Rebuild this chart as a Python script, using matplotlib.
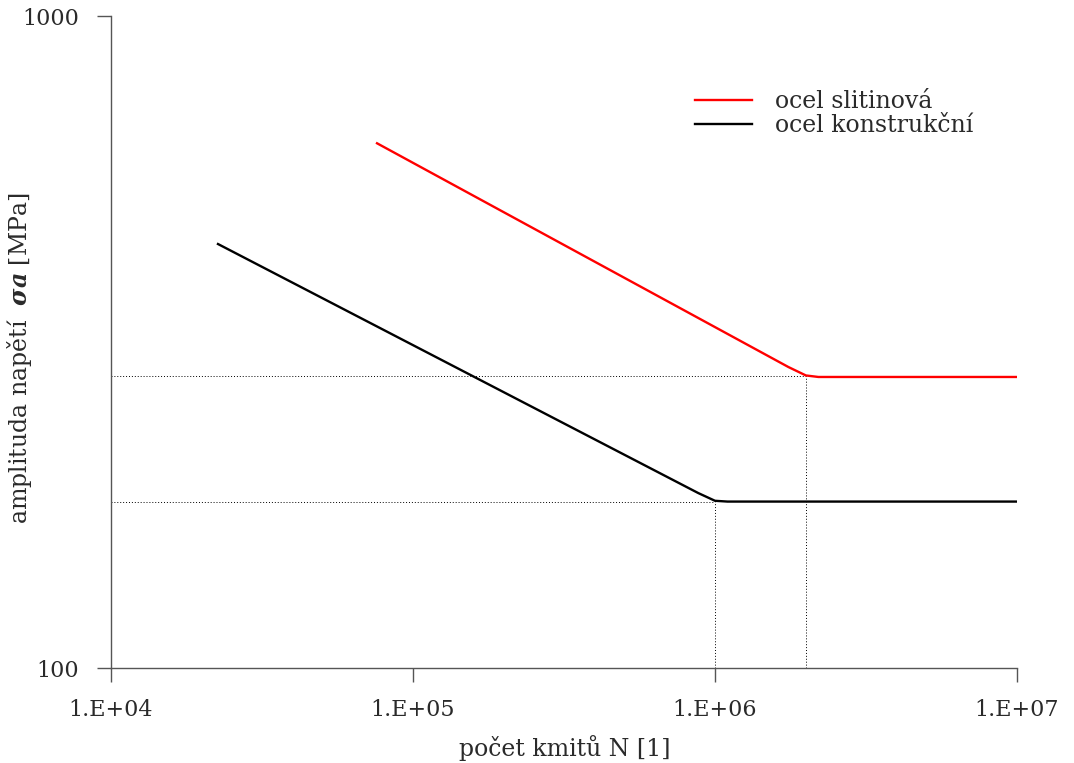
import matplotlib
matplotlib.use("Agg")
import matplotlib.pyplot as plt
from matplotlib.ticker import FixedLocator, NullLocator

# Wöhler curves (cycles N, stress amplitude in MPa)
n_alloy = [7.6e4, 1.75e6, 2.0e6, 2.2e6, 1.0e7]
s_alloy = [638, 289.5, 281, 279.5, 279.5]
n_struct = [2.26e4, 8.8e5, 1.0e6, 1.1e6, 1.0e7]
s_struct = [447, 185.5, 180.5, 180, 180]

# fatigue limits and knee points
knee_n = [2.0e6, 1.0e6]
knee_s = [280, 180]

x_ticks = [1e4, 1e5, 1e6, 1e7]
x_ticklabels = ["1.E+04", "1.E+05", "1.E+06", "1.E+07"]
y_ticks = [100, 1000]
y_ticklabels = ["100", "1000"]

labels = ["ocel slitinová", "ocel konstrukční"]

plt.rcParams["font.family"] = ["DejaVu Serif"]
plt.rcParams["mathtext.fontset"] = "dejavuserif"
plt.rcParams["axes.unicode_minus"] = False

TXT = "#2a2a2a"

fig = plt.figure(figsize=(10.74, 7.63), dpi=100)
ax = fig.add_axes([0.1034, 0.1245, 0.8435, 0.8545])

ax.set_xscale("log")
ax.set_yscale("log")
ax.set_xlim(1e4, 1e7)
ax.set_ylim(100, 1000)

# dotted guides to the knee points
for n, s in zip(knee_n, knee_s):
    ax.plot([1e4, n], [s, s], color="black", linestyle=(0, (1, 2)), linewidth=0.7)
    ax.plot([n, n], [100, s], color="black", linestyle=(0, (1, 2)), linewidth=0.7)

ax.plot(n_alloy, s_alloy, color="#ff0000", linewidth=1.7, label=labels[0])
ax.plot(n_struct, s_struct, color="black", linewidth=1.7, label=labels[1])

for side in ["top", "right"]:
    ax.spines[side].set_visible(False)
for side in ["left", "bottom"]:
    ax.spines[side].set_color("#555555")
    ax.spines[side].set_linewidth(1.0)

ax.xaxis.set_major_locator(FixedLocator(x_ticks))
ax.xaxis.set_minor_locator(NullLocator())
ax.set_xticklabels(x_ticklabels)
ax.yaxis.set_major_locator(FixedLocator(y_ticks))
ax.yaxis.set_minor_locator(NullLocator())
ax.set_yticklabels(y_ticklabels)
ax.tick_params(axis="both", direction="out", length=10, width=1.0, color="#555555",
               labelsize=16, labelcolor=TXT)
ax.tick_params(axis="x", pad=12)
ax.tick_params(axis="y", pad=13)
# top label sits a little below its tick in the original
ax.get_yticklabels()[1].set_verticalalignment("center_baseline")

fig.text(565 / 1074, 1 - 748 / 763, "počet kmitů N [1]", fontsize=17, color=TXT,
         ha="center", va="center")
fig.text(20 / 1074, 1 - 358 / 763, r"amplituda napětí  $\mathbfit{\sigma a}$ [MPa]",
         fontsize=17, color=TXT, ha="center", va="center", rotation=90)

leg = ax.legend(loc="upper left", bbox_to_anchor=(695 / 1074, 1 - 90 / 763),
                bbox_transform=fig.transFigure, frameon=False, borderpad=0,
                borderaxespad=0, fontsize=17, handlelength=2.4, handletextpad=1.0,
                labelspacing=0.05)
for t in leg.get_texts():
    t.set_color(TXT)

fig.savefig("out.png", dpi=100)
